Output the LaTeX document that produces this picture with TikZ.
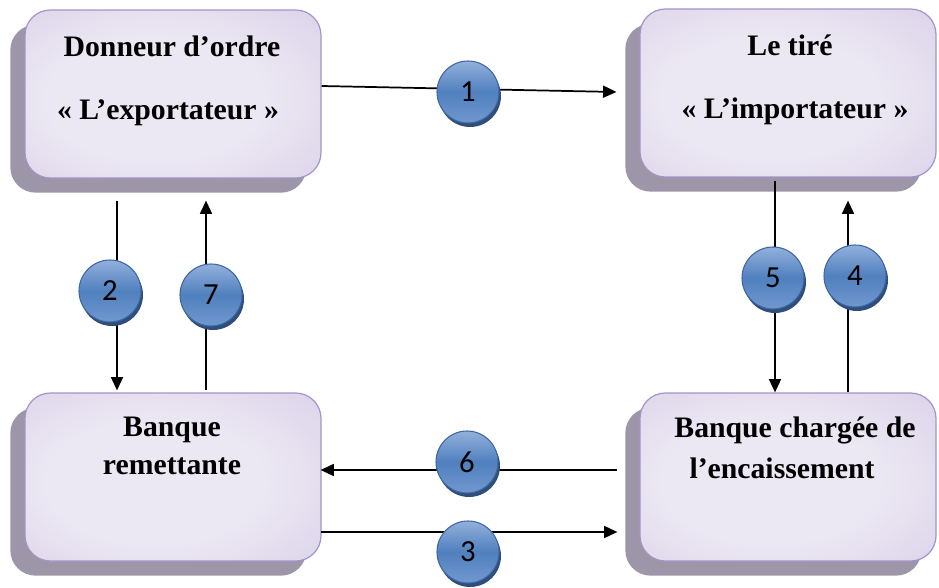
\documentclass[tikz,border=0pt]{standalone}
\usepackage{fontspec}
\setmainfont{Liberation Serif}
\newfontfamily\numfont{Carlito}
\usetikzlibrary{calc,shadows,arrows.meta}

\definecolor{boxlight}{RGB}{236,232,243}
\definecolor{boxmid}{RGB}{218,208,232}
\definecolor{boxdark}{RGB}{176,160,204}
\definecolor{boxline}{RGB}{164,148,200}
\definecolor{boxshadow}{RGB}{156,150,168}
\definecolor{numtop}{RGB}{146,176,220}
\definecolor{nummid}{RGB}{80,128,190}
\definecolor{numbot}{RGB}{112,152,206}
\definecolor{numline}{RGB}{62,102,160}
\definecolor{numshadow}{RGB}{48,78,124}

\pgfdeclareradialshading{boxshade}{\pgfpoint{-4bp}{-2bp}}{%
  color(0bp)=(boxlight); color(18bp)=(boxlight); color(40bp)=(boxmid);
  color(62bp)=(boxdark); color(80bp)=(boxdark)}

\begin{document}
\begin{tikzpicture}[x=0.75pt, y=-0.75pt, line width=1.3pt,
    box/.style={rounded corners=19pt, draw=boxline, line width=0.9pt,
      shading=boxshade,
      minimum width=222pt, minimum height=126pt,
      drop shadow={shadow xshift=-11pt, shadow yshift=-11pt, fill=boxshadow, opacity=1}},
    boxtext/.style={font=\bfseries\fontsize{22.3}{26}\selectfont, inner sep=0pt},
    num/.style={circle, minimum size=46.5pt, inner sep=0pt, draw=numline, line width=0.8pt,
      top color=numtop, bottom color=numbot, middle color=nummid,
      font=\numfont\fontsize{23}{23}\selectfont,
      drop shadow={shadow xshift=1.5pt, shadow yshift=-3pt, fill=numshadow, opacity=1}},
    link/.style={-{Triangle[length=10pt,width=9pt]}}]
    \useasboundingbox (0,0) rectangle (939,588);

    %---- the four parties
    \node[box] (exp) at (173,94)  {};
    \node[box] (imp) at (788,93)  {};
    \node[box] (rem) at (173,477) {};
    \node[box] (enc) at (788,477) {};

    %---- their texts
    \node[boxtext] (exp-a) at ($(exp.north)+(-1,37)$)  {Donneur d’ordre};
    \node[boxtext] (exp-b) at ($(exp.north)+(-5,103)$) {« L’exportateur »};
    \node[boxtext] (imp-a) at ($(imp.north)+(2,37)$)   {Le tiré};
    \node[boxtext] (imp-b) at ($(imp.north)+(7,103)$)  {« L’importateur »};
    \node[boxtext] (rem-a) at ($(rem.north)+(-1,38)$)  {Banque};
    \node[boxtext] (rem-b) at ($(rem.north)+(-1,74)$)  {remettante};
    \node[boxtext] (enc-a) at ($(enc.north)+(7,38)$)   {Banque chargée de};
    \node[boxtext] (enc-b) at ($(enc.north)+(-6,76)$)  {l’encaissement};

    %---- ends of the flows
    \coordinate (a1s) at ($(exp.east)+(0,-8)$);
    \coordinate (a1e) at ($(imp.west)+(-23,-1)$);
    \coordinate (a2s) at ($(exp.south)+(-56,22)$);
    \coordinate (a2e) at ($(rem.north)+(-56,-2)$);
    \coordinate (a7s) at ($(rem.north)+(33,-2)$);
    \coordinate (a7e) at ($(exp.south)+(33,22)$);
    \coordinate (a5s) at ($(imp.south)+(-13,3)$);
    \coordinate (a5e) at ($(enc.north)+(-13,0)$);
    \coordinate (a4s) at ($(enc.north)+(60,0)$);
    \coordinate (a4e) at ($(imp.south)+(60,23)$);
    \coordinate (a6s) at ($(enc.west)+(-22,-7)$);
    \coordinate (a6e) at ($(rem.east)+(-1,-7)$);
    \coordinate (a3s) at ($(rem.east)+(-1,55)$);
    \coordinate (a3e) at ($(enc.west)+(-22,55)$);

    %---- flows
    \draw[link] (a1s) -- (a1e);
    \draw[link] (a2s) -- (a2e);
    \draw[link] (a7s) -- (a7e);
    \draw[link] (a5s) -- (a5e);
    \draw[link] (a4s) -- (a4e);
    \draw[link] (a6s) -- (a6e);
    \draw[link] (a3s) -- (a3e);

    %---- steps
    \node[num] (n1) at (468,92)  {1};
    \node[num] (n2) at (110,291) {2};
    \node[num] (n3) at (468,552) {3};
    \node[num] (n4) at (855,276) {4};
    \node[num] (n5) at (773,278) {5};
    \node[num] (n6) at (467,462) {6};
    \node[num] (n7) at (211,295) {7};
\end{tikzpicture}
\end{document}
